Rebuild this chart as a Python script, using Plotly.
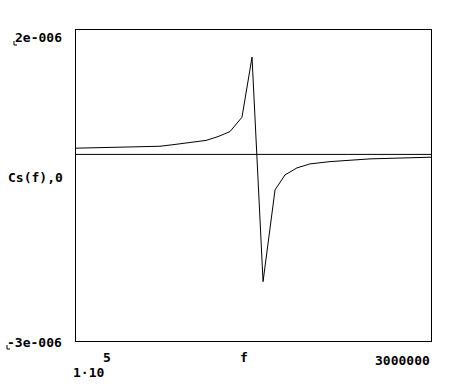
import plotly.graph_objects as go

# Data
f_vals = [1.0e5, 5.08e5, 7.86e5, 9.09e5, 1.031e6, 1.162e6, 1.260e6, 1.358e6,
          1.456e6, 1.538e6, 1.628e6, 1.726e6, 1.807e6, 1.905e6, 2.011e6,
          2.175e6, 2.502e6, 3.0e6]
cs_vals = [0.100e-6, 0.112e-6, 0.131e-6, 0.160e-6, 0.193e-6, 0.225e-6, 0.286e-6,
           0.367e-6, 0.598e-6, 1.563e-6, -2.045e-6, -0.571e-6, -0.330e-6,
           -0.217e-6, -0.153e-6, -0.116e-6, -0.072e-6, -0.045e-6]
zero_x = [1.0e5, 3.0e6]
zero_y = [0.0, 0.0]

x_range = [1.0e5, 3.0e6]
y_range = [-3e-6, 2e-6]

W, H = 460, 390
L, R, T, B = 76, 431, 30, 341

fig = go.Figure()
fig.add_trace(go.Scatter(x=f_vals, y=cs_vals, mode="lines",
                         line=dict(color="black", width=1), hoverinfo="skip"))
fig.add_trace(go.Scatter(x=zero_x, y=zero_y, mode="lines",
                         line=dict(color="black", width=1), hoverinfo="skip"))

def px(x):
    return (x - L) / (R - L)

def py(y):
    return (B - y) / (B - T)

font = dict(family="DejaVu Sans Mono", size=13, color="black")
ann = []
def add(text, x, y, xa, size=13):
    ann.append(dict(text="<b>%s</b>" % text, x=px(x), y=py(y), xref="paper", yref="paper",
                    xanchor=xa, yanchor="middle", showarrow=False,
                    font=dict(family="DejaVu Sans Mono", size=size, color="black")))

add("2e-006", 64, 37, "right")
add("-3e-006", 64, 342, "right")
add("Cs(f),0", 65, 177, "right")
add("5", 107, 358, "center")
add("1·10", 88, 372, "center")
add("f", 244, 357, "center")
add("3000000", 432, 360, "right")

shapes = []
for (cx, cy) in [(14, 45), (7, 349)]:
    shapes.append(dict(type="path", xref="paper", yref="paper",
                       path="M %f %f L %f %f L %f %f" % (px(cx), py(cy - 4), px(cx), py(cy), px(cx + 3), py(cy)),
                       line=dict(color="black", width=1)))

fig.update_layout(
    width=W, height=H,
    margin=dict(l=L, r=W - R, t=T, b=H - B),
    paper_bgcolor="white", plot_bgcolor="white",
    showlegend=False,
    xaxis=dict(range=x_range, showgrid=False, zeroline=False, showticklabels=False,
               ticks="", showline=True, linecolor="black", linewidth=1, mirror=True),
    yaxis=dict(range=y_range, showgrid=False, zeroline=False, showticklabels=False,
               ticks="", showline=True, linecolor="black", linewidth=1, mirror=True),
    annotations=ann,
    shapes=shapes,
)

fig.write_html("out.html")
